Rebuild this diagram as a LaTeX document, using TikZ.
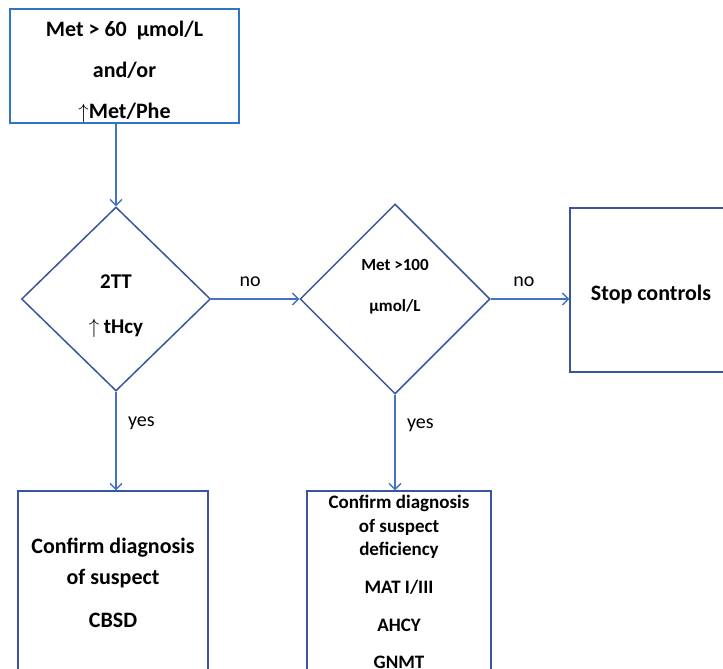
\documentclass[tikz,border=0pt]{standalone}
\usepackage{fontspec}
\setmainfont{Carlito}
\usetikzlibrary{shapes.geometric,arrows.meta,positioning}

\definecolor{startblue}{RGB}{46,117,200}
\definecolor{shapeblue}{RGB}{55,86,156}
\definecolor{arrowblue}{RGB}{68,114,196}

\begin{document}
\begin{tikzpicture}[x=1pt,y=-1pt,
  box/.style={rectangle,draw=shapeblue,line width=1.5pt,align=center,inner sep=0pt},
  decision/.style={diamond,draw=shapeblue,line width=1.5pt,align=center,inner sep=0pt},
  flow/.style={draw=arrowblue,line width=1.4pt,-{Straight Barb[length=6pt,width=12pt,line width=1.4pt]}},
  answer/.style={font=\fontsize{20}{22}\selectfont}]
\useasboundingbox (0,0) rectangle (723,669);

% start
\node (start) at (124.5,66) [box,draw=startblue,minimum width=229,minimum height=104,
  font=\fontsize{22}{41.5}\selectfont\bfseries]
  {\rule{0pt}{28pt}Met > 60\ \ µmol/L\\[-1pt]and/or\\$\uparrow$Met/Phe};

% decisions
\node (tt) at (116,299) [decision,minimum width=189,minimum height=184,
  label={[yshift=-7pt,align=center,font=\fontsize{21}{45}\selectfont\bfseries]center:{2TT\\$\uparrow$ tHcy}}] {};
\node (met) at (395,299) [decision,minimum width=190,minimum height=190,
  label={[yshift=12pt,align=center,font=\fontsize{17}{41}\selectfont\bfseries]center:{Met >100\\µmol/L}}] {};

% outcomes
\node (stop) at (651,290) [box,minimum width=162,minimum height=164,
  font=\fontsize{22}{25}\selectfont\bfseries] {\rule{0pt}{25pt}Stop controls};
\node (cbsd) at (113,583) [box,minimum width=190,minimum height=184,
  font=\fontsize{22}{31}\selectfont\bfseries]
  {Confirm diagnosis\\of suspect\\[12pt]CBSD};
\node (defic) at (399,582) [box,minimum width=184,minimum height=182,
  font=\fontsize{19}{23.5}\selectfont\bfseries]
  {Confirm diagnosis\\of suspect\\deficiency\\[14pt]MAT I/III\\[15pt]AHCY\\[13pt]GNMT};

% connectors
\draw[flow] (start.south -| tt.north) -- (tt.north);
\draw[flow] (tt.east) -- (met.west) node [answer,midway,above=8pt,xshift=-5pt] {no};
\draw[flow] (met.east) -- (met.east -| stop.west) node [answer,midway,above=8pt,xshift=-6pt] {no};
\draw[flow] (tt.south) -- (tt.south |- cbsd.north) node [answer,pos=0.32,right=8pt] {yes};
\draw[flow] (met.south) -- (met.south |- defic.north) node [answer,pos=0.32,right=8pt] {yes};
\end{tikzpicture}
\end{document}
